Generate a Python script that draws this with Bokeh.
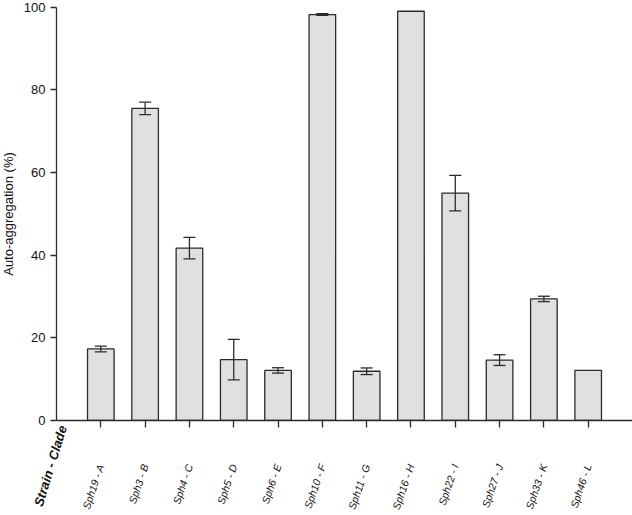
import math
import numpy as np
from bokeh.plotting import figure
from bokeh.models import ColumnDataSource, FixedTicker, Whisker, TeeHead, Label, Range1d
from bokeh.embed import file_html
from bokeh.resources import INLINE

# ---- data ----
strains = ["Sph19 - A", "Sph3 - B", "Sph4 - C", "Sph5 - D", "Sph6 - E", "Sph10 - F",
           "Sph11 - G", "Sph16 - H", "Sph22 - I", "Sph27 - J", "Sph33 - K", "Sph46 - L"]
aggregation = [17.3, 75.5, 41.7, 14.7, 12.1, 98.2, 11.9, 99.0, 55.0, 14.6, 29.4, 12.1]
errors = [0.7, 1.5, 2.6, 4.9, 0.65, 0.2, 0.8, 0.0, 4.3, 1.3, 0.65, 0.0]
y_ticks = [0, 20, 40, 60, 80, 100]
x_title = "Strain - Clade"
y_title = "Auto-aggregation (%)"

FONT = "Liberation Sans"
LINE = "#2b2b2b"

pos = list(range(1, len(strains) + 1))
src = ColumnDataSource(dict(x=pos, top=aggregation))

ex = [p_ for p_, e in zip(pos, errors) if e > 0]
ev = [v for v, e in zip(aggregation, errors) if e > 0]
ee = [e for e in errors if e > 0]
esrc = ColumnDataSource(dict(x=ex, upper=[v + e for v, e in zip(ev, ee)],
                             lower=[v - e for v, e in zip(ev, ee)]))

n = len(strains)
p = figure(width=632, height=515, output_backend="svg", toolbar_location=None,
           x_range=Range1d(-1.264, n + 1), y_range=Range1d(-23.0, 101.6),
           min_border_left=0, min_border_right=0, min_border_top=0, min_border_bottom=0)
p.outline_line_color = None
p.xgrid.visible = False
p.ygrid.visible = False
p.background_fill_color = "white"

p.vbar(x="x", top="top", bottom=0, width=0.6, source=src,
       fill_color="#e0e0e0", line_color=LINE, line_width=1.3)

w = Whisker(base="x", upper="upper", lower="lower", source=esrc, level="overlay",
            line_color=LINE, line_width=1.3,
            upper_head=TeeHead(size=12, line_color=LINE, line_width=1.3),
            lower_head=TeeHead(size=12, line_color=LINE, line_width=1.3))
p.add_layout(w)

# y axis, fixed at x = 0
p.yaxis.fixed_location = 0
p.yaxis.ticker = FixedTicker(ticks=y_ticks)
p.yaxis.bounds = (0, 100)
p.yaxis.axis_label = y_title
p.yaxis.axis_label_text_font = FONT
p.yaxis.axis_label_text_font_size = "13px"
p.yaxis.axis_label_text_font_style = "normal"
p.yaxis.axis_label_text_color = "#111111"
p.yaxis.axis_label_standoff = 5
p.yaxis.major_label_text_font = FONT
p.yaxis.major_label_text_font_size = "13px"
p.yaxis.major_label_text_color = "#111111"
p.yaxis.major_label_standoff = 5
p.yaxis.major_tick_out = 6
p.yaxis.major_tick_in = 0
p.yaxis.minor_tick_line_color = None
p.yaxis.axis_line_color = LINE
p.yaxis.axis_line_width = 1.3
p.yaxis.major_tick_line_color = LINE
p.yaxis.major_tick_line_width = 1.3

# x axis, fixed at y = 0
p.xaxis.fixed_location = 0
p.xaxis.bounds = (0, n + 1)
p.xaxis.ticker = FixedTicker(ticks=pos)
p.xaxis.major_label_overrides = {i: s for i, s in zip(pos, strains)}
p.xaxis.major_label_orientation = math.radians(71)
p.xaxis.major_label_text_font = FONT
p.xaxis.major_label_text_font_size = "10.5px"
p.xaxis.major_label_text_font_style = "italic"
p.xaxis.major_label_text_color = "#111111"
p.xaxis.major_label_standoff = 37
p.xaxis.major_tick_out = 7
p.xaxis.major_tick_in = 0
p.xaxis.minor_tick_line_color = None
p.xaxis.axis_line_color = LINE
p.xaxis.axis_line_width = 1.3
p.xaxis.major_tick_line_color = LINE
p.xaxis.major_tick_line_width = 1.3

lab = Label(x=0.14, y=-1.3, x_units="data", y_units="data", text=x_title,
            angle=math.radians(73), text_align="right", text_baseline="middle",
            text_font=FONT, text_font_size="13px", text_font_style="bold italic",
            text_color="#111111")
p.add_layout(lab)

open("out.html", "w").write(file_html(p, INLINE))
